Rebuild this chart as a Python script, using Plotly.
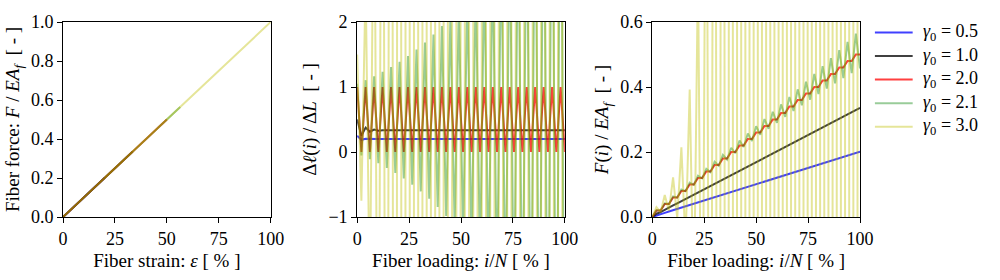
import numpy as np
import plotly.graph_objects as go

# ---------------- data ----------------
gamma_labels = ["0.5", "1.0", "2.0", "2.1", "3.0"]

# panel 2: normalised segment elongation  Δℓ(i)/ΔL  (50 loading steps, 0..100 %)
dl_05 = [0.25, 0.1875, 0.2031, 0.1992, 0.2002, 0.1999, 0.2, 0.2, 0.2, 0.2,
         0.2, 0.2, 0.2, 0.2, 0.2, 0.2, 0.2, 0.2, 0.2, 0.2,
         0.2, 0.2, 0.2, 0.2, 0.2, 0.2, 0.2, 0.2, 0.2, 0.2,
         0.2, 0.2, 0.2, 0.2, 0.2, 0.2, 0.2, 0.2, 0.2, 0.2,
         0.2, 0.2, 0.2, 0.2, 0.2, 0.2, 0.2, 0.2, 0.2, 0.2]
dl_10 = [0.5, 0.25, 0.375, 0.3125, 0.3438, 0.3281, 0.3359, 0.332, 0.334, 0.333,
         0.3335, 0.3333, 0.3333, 0.3333, 0.3333, 0.3333, 0.3333, 0.3333, 0.3333, 0.3333,
         0.3333, 0.3333, 0.3333, 0.3333, 0.3333, 0.3333, 0.3333, 0.3333, 0.3333, 0.3333,
         0.3333, 0.3333, 0.3333, 0.3333, 0.3333, 0.3333, 0.3333, 0.3333, 0.3333, 0.3333,
         0.3333, 0.3333, 0.3333, 0.3333, 0.3333, 0.3333, 0.3333, 0.3333, 0.3333, 0.3333]
dl_20 = [1, 0, 1, 0, 1, 0, 1, 0, 1, 0,
         1, 0, 1, 0, 1, 0, 1, 0, 1, 0,
         1, 0, 1, 0, 1, 0, 1, 0, 1, 0,
         1, 0, 1, 0, 1, 0, 1, 0, 1, 0,
         1, 0, 1, 0, 1, 0, 1, 0, 1, 0]
dl_21 = [1.050, -0.053, 1.105, -0.110, 1.166, -0.174, 1.233, -0.245, 1.307, -0.322,
         1.388, -0.408, 1.478, -0.502, 1.577, -0.606, 1.686, -0.720, 1.807, -0.847,
         1.939, -0.986, 2.085, -1.140, 2.247, -1.309, 2.424, -1.496, 2.620, -1.702,
         2.837, -1.928, 3.075, -2.179, 3.338, -2.454, 3.627, -2.758, 3.946, -3.094,
         4.298, -3.463, 4.686, -3.871, 5.114, -4.320, 5.586, -4.815, 6.106, -5.361]
dl_30 = [1.5, -0.75, 2.625, -2.4375, 5.156, -6.234, 10.85, -14.78, 23.67, -34.0,
         52.5, -77.25, 117.4, -174.5, 263.3, -393.5, 591.7, -886.1, 1331.0, -1994.0,
         2994.0, -4488.0, 6735.0, -1.010e4, 1.515e4, -2.273e4, 3.409e4, -5.113e4, 7.670e4, -1.1505e5,
         1.7258e5, -2.5886e5, 3.8830e5, -5.8244e5, 8.7367e5, -1.3105e6, 1.9658e6, -2.9486e6, 4.4230e6, -6.6345e6,
         9.9517e6, -1.4928e7, 2.2391e7, -3.3587e7, 5.0380e7, -7.5570e7, 1.1336e8, -1.7003e8, 2.5505e8, -3.8258e8]

# panel 3: normalised fiber force F(i)/EA_f  (51 loading steps, 0..100 %)
F_05 = [0, 0.005, 0.0088, 0.0128, 0.0168, 0.0208, 0.0248, 0.0288, 0.0328, 0.0368,
        0.0408, 0.0448, 0.0488, 0.0528, 0.0568, 0.0608, 0.0648, 0.0688, 0.0728, 0.0768,
        0.0808, 0.0848, 0.0888, 0.0928, 0.0968, 0.1008, 0.1048, 0.1088, 0.1128, 0.1168,
        0.1208, 0.1248, 0.1288, 0.1328, 0.1368, 0.1408, 0.1448, 0.1488, 0.1528, 0.1568,
        0.1608, 0.1648, 0.1688, 0.1728, 0.1768, 0.1808, 0.1848, 0.1888, 0.1928, 0.1968,
        0.2008]
F_10 = [0, 0.01, 0.015, 0.0225, 0.0288, 0.0356, 0.0422, 0.0489, 0.0555, 0.0622,
        0.0689, 0.0756, 0.0822, 0.0889, 0.0956, 0.1022, 0.1089, 0.1156, 0.1222, 0.1289,
        0.1356, 0.1422, 0.1489, 0.1556, 0.1622, 0.1689, 0.1756, 0.1822, 0.1889, 0.1956,
        0.2022, 0.2089, 0.2156, 0.2222, 0.2289, 0.2356, 0.2422, 0.2489, 0.2556, 0.2622,
        0.2689, 0.2756, 0.2822, 0.2889, 0.2956, 0.3022, 0.3089, 0.3156, 0.3222, 0.3289,
        0.3356]
F_20 = [0, 0.02, 0.02, 0.04, 0.04, 0.06, 0.06, 0.08, 0.08, 0.10,
        0.10, 0.12, 0.12, 0.14, 0.14, 0.16, 0.16, 0.18, 0.18, 0.20,
        0.20, 0.22, 0.22, 0.24, 0.24, 0.26, 0.26, 0.28, 0.28, 0.30,
        0.30, 0.32, 0.32, 0.34, 0.34, 0.36, 0.36, 0.38, 0.38, 0.40,
        0.40, 0.42, 0.42, 0.44, 0.44, 0.46, 0.46, 0.48, 0.48, 0.50,
        0.50]
F_21 = [0, 0.0210, 0.0200, 0.0421, 0.0398, 0.0632, 0.0597, 0.0843, 0.0794, 0.1056,
        0.0991, 0.1269, 0.1188, 0.1483, 0.1383, 0.1698, 0.1577, 0.1914, 0.1770, 0.2131,
        0.1962, 0.2350, 0.2153, 0.2570, 0.2342, 0.2791, 0.2529, 0.3014, 0.2715, 0.3239,
        0.2899, 0.3466, 0.3081, 0.3695, 0.3260, 0.3927, 0.3436, 0.4162, 0.3610, 0.4399,
        0.3781, 0.4640, 0.3948, 0.4885, 0.4111, 0.5134, 0.4270, 0.5387, 0.4424, 0.5645,
        0.4573]
F_30 = [0, 0.03, 0.015, 0.0675, 0.0188, 0.1219, -0.0028, 0.2142, -0.0813, 0.392,
        -0.288, 0.762, -0.783, 1.564, -1.926, 3.340, -4.530, 7.305, -10.42, 16.20,
        -23.69, 36.17, -53.60, 81.09, -120.9, 182.1, -272.4, 409.4, -613.3, 920.8,
        -1380.0, 2071.0, -3106.0, 4660.0, -6989.0, 10484.0, -15726.0, 23590.0, -35384.0, 53076.0,
        -79612.0, 119418.0, -179129.0, 268697.0, -403042.0, 604562.0, -906840.0, 1360296.0, -2040408.0, 3060648.0,
        -4591000.0]

dl_series = [dl_05, dl_10, dl_20, dl_21, dl_30]
F_series = [F_05, F_10, F_20, F_21, F_30]

x_dl = np.linspace(0, 100, len(dl_05))
x_F = np.linspace(0, 100, len(F_05))

# ---------------- style ----------------
colors = ["rgba(0,0,255,0.75)", "rgba(0,0,0,0.75)", "rgba(255,0,0,0.75)",
          "rgba(0,128,0,0.4)", "rgba(191,191,0,0.4)"]
FONT = "Liberation Serif"
LW = 2

fig = go.Figure()
for k in range(5):
    F = np.array(F_series[k], dtype=float)
    name = "<i>γ</i><sub>0</sub> = " + gamma_labels[k]
    fig.add_trace(go.Scatter(x=F * 100, y=F, mode="lines", xaxis="x", yaxis="y",
                             line=dict(color=colors[k], width=LW), name=name,
                             showlegend=False, hoverinfo="skip"))
for k in range(5):
    fig.add_trace(go.Scatter(x=x_dl, y=dl_series[k], mode="lines", xaxis="x2", yaxis="y2",
                             line=dict(color=colors[k], width=LW),
                             showlegend=False, hoverinfo="skip"))
for k in range(5):
    fig.add_trace(go.Scatter(x=x_F, y=F_series[k], mode="lines", xaxis="x3", yaxis="y3",
                             line=dict(color=colors[k], width=LW),
                             showlegend=False, hoverinfo="skip"))

ML, MR, MT, MB = 58, 140, 13, 52
W = 1000 - ML - MR
H = 280 - MT - MB


def dom(a, b):
    return [(a - ML) / W, (b - ML) / W]


def px_x(px):
    return (px - ML) / W


def px_y(py):
    return (280 - MB - py) / H


# manual legend (line sample + label) placed to the right of the last panel
shapes = []
annotations = []
for k in range(5):
    yy = px_y(24.5 + 26 * k)
    shapes.append(dict(type="line", xref="paper", yref="paper",
                       x0=px_x(875), x1=px_x(913), y0=yy, y1=yy,
                       line=dict(color=colors[k], width=LW)))
    annotations.append(dict(xref="paper", yref="paper", x=px_x(921), y=yy,
                            xanchor="left", yanchor="middle", showarrow=False,
                            text="<i>γ</i><sub>0</sub> = " + gamma_labels[k],
                            font=dict(family=FONT, size=18, color="black")))

axis_common = dict(showline=True, mirror=True, linecolor="black", linewidth=1,
                   ticks="outside", ticklen=5, tickwidth=1, tickcolor="black",
                   showgrid=False, zeroline=False,
                   tickfont=dict(family=FONT, size=18, color="black"),
                   title_font=dict(family=FONT, size=19, color="black"))

xt = dict(tickmode="array", tickvals=[0, 25, 50, 75, 100], ticktext=["0", "25", "50", "75", "100"])

fig.update_layout(
    width=1000, height=280,
    margin=dict(l=ML, r=MR, t=MT, b=MB),
    paper_bgcolor="white", plot_bgcolor="white",
    font=dict(family=FONT, size=18, color="black"),
    showlegend=False,
    shapes=shapes,
    annotations=annotations,
    xaxis=dict(domain=dom(58, 267), range=[0, 100], anchor="y",
               title=dict(text="Fiber strain: <i>ε</i> [ % ]", standoff=6), **xt, **axis_common),
    yaxis=dict(domain=[0, 1], range=[0, 1], anchor="x",
               tickvals=[0, 0.2, 0.4, 0.6, 0.8, 1.0], ticktext=["0.0", "0.2", "0.4", "0.6", "0.8", "1.0"],
               title=dict(text="Fiber force: <i>F</i> / <i>EA<sub>f</sub></i>  [ - ]", standoff=6), **axis_common),
    xaxis2=dict(domain=dom(354, 563), range=[0, 100], anchor="y2",
                title=dict(text="Fiber loading: <i>i</i>/<i>N</i> [ % ]", standoff=6), **xt, **axis_common),
    yaxis2=dict(domain=[0, 1], range=[-1, 2], anchor="x2",
                tickvals=[-1, 0, 1, 2], ticktext=["−1", "0", "1", "2"],
                title=dict(text="Δ<i>ℓ</i>(<i>i</i>) / Δ<i>L</i>  [ - ]", standoff=6), **axis_common),
    xaxis3=dict(domain=dom(651, 860), range=[0, 100], anchor="y3",
                title=dict(text="Fiber loading: <i>i</i>/<i>N</i> [ % ]", standoff=6), **xt, **axis_common),
    yaxis3=dict(domain=[0, 1], range=[0, 0.6], anchor="x3",
                tickvals=[0, 0.2, 0.4, 0.6], ticktext=["0.0", "0.2", "0.4", "0.6"],
                title=dict(text="<i>F</i>(<i>i</i>) / <i>EA<sub>f</sub></i>  [ - ]", standoff=6), **axis_common),
)

fig.write_html("out.html")
